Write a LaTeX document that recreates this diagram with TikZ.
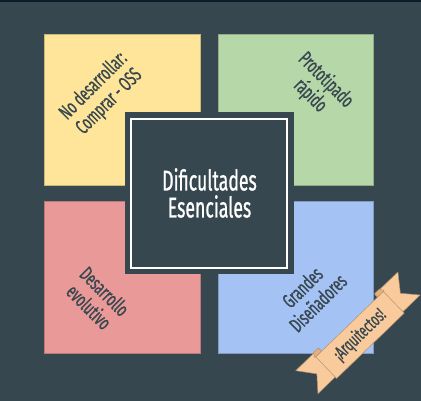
\documentclass[tikz,border=0pt]{standalone}
\usepackage{fontspec}
\newfontfamily\osw[FakeStretch=0.62,FakeBold=0.8]{Fira Sans}
\definecolor{fondo}{HTML}{37474F}
\definecolor{barra}{HTML}{0D1B2A}
\definecolor{amarillo}{HTML}{FFE599}
\definecolor{verde}{HTML}{B6D7A8}
\definecolor{rojo}{HTML}{EA9999}
\definecolor{azul}{HTML}{A4C2F4}
\definecolor{cinta}{HTML}{F9CB9C}
\definecolor{pliegue}{HTML}{E3B080}
\definecolor{borde}{HTML}{B8916C}
\definecolor{texto}{HTML}{37474F}
\begin{document}
\begin{tikzpicture}[x=1pt,y=1pt,
  cuadro/.style={draw=#1!80!black,line width=0.5pt,fill=#1},
  etiqueta/.style={text=texto,align=center,font=\osw\fontsize{20.5}{22}\selectfont},
  pieza/.style={fill=cinta,draw=borde,line width=0.5pt,line join=round}]
\fill[fondo](0,0)rectangle(421,401);
\fill[barra](0,398.5)rectangle(421,401);
\draw[cuadro=amarillo](44,215.5)rectangle(200,367);
\draw[cuadro=verde](218,215.5)rectangle(373,367);
\draw[cuadro=rojo](44,48)rectangle(200,199.5);
\draw[cuadro=azul](218,48)rectangle(373,199.5);
\fill[fondo](125,127)rectangle(294,289);
\draw[white,line width=1.5pt](131,133)rectangle(287,282);
\node[text=white,align=center,font=\osw\fontsize{28.5}{27}\selectfont](dif)at(209.5,208){Dificultades\\Esenciales};
\node[etiqueta,rotate=45](oss)at(101.5,307){No desarrollar:\\Comprar - OSS};
\node[etiqueta,rotate=-45](proto)at(318,313){Prototipado\\rápido};
\node[etiqueta,rotate=-45](evol)at(97,102){Desarrollo\\evolutivo};
\node[etiqueta,rotate=45](disen)at(310,106){Grandes\\Diseñadores};
\begin{scope}[shift={(360,66)},rotate=44]
\foreach \s in {1,-1}{
\draw[pieza](39*\s,19)--(71*\s,19)--(58*\s,2)--(71*\s,-13)--(39*\s,-13)--cycle;
\filldraw[pieza,fill=pliegue](39*\s,15)--(48*\s,15)--(46*\s,19.5)--(39*\s,19.5)--cycle;}
\draw[pieza](-47,-15)rectangle(47,15);
\node[transform shape,text=texto,font=\osw\fontsize{18.5}{18.5}\selectfont](arq)at(0,0){¡Arquitectos!};
\end{scope}
\end{tikzpicture}
\end{document}
